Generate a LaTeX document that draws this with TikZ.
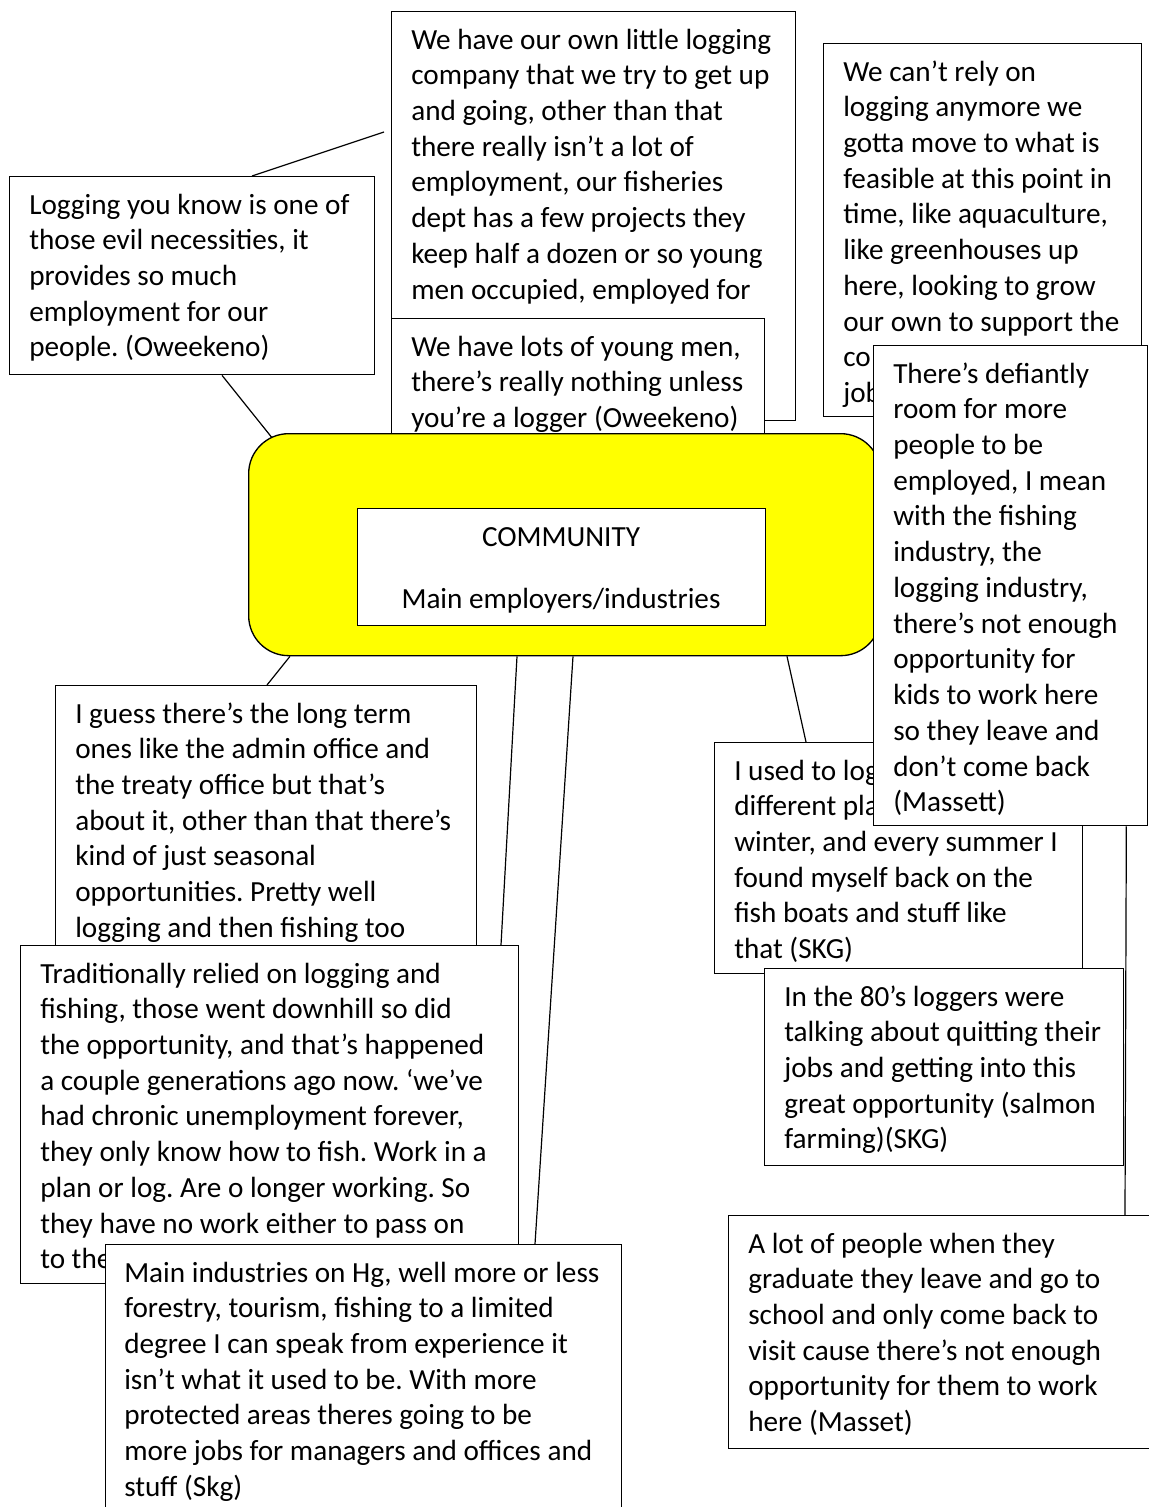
\documentclass[tikz,border=0pt]{standalone}
\usepackage{fontspec}
\setmainfont{Carlito}
\usepackage{xcolor}
\usepackage{tikz}
\usetikzlibrary{calc}
\pgfdeclarelayer{background}
\pgfsetlayers{background,main}
\frenchspacing
\definecolor{qyellow}{RGB}{255,255,0}
\newcommand{\qfont}{\fontsize{21.9pt}{26.8pt}\selectfont}
\newcommand{\qlines}[1]{\begin{tabular}[t]{@{}l@{}}#1\end{tabular}}
\tikzset{
	qbox/.style={draw, fill=white, line width=1pt, anchor=north west, inner sep=0pt},
	qtext/.style={anchor=base west, inner sep=0pt, font=\qfont},
	link/.style={draw, line width=0.9pt},
}

\begin{document}
\begin{tikzpicture}[x=0.75pt,y=0.75pt,yscale=-1]
			\useasboundingbox (0,0) rectangle (1149,1507);
			
			%Shape: Rectangle
			\node [qbox, minimum width=303pt, minimum height=306.75pt] (ownco) at (391,11) {};
			% Text Node
			\node [qtext] (ownco-t) at (411,49) {\qlines{We have our own little logging\\company that we try to get up\\and going, other than that\\there really isn’t a lot of\\employment, our fisheries\\dept has a few projects they\\keep half a dozen or so young\\men occupied, employed for}};
			%Shape: Rectangle
			\node [qbox, minimum width=279.75pt, minimum height=97.5pt] (youngmen) at (391,318) {};
			% Text Node
			\node [qtext] (youngmen-t) at (411,356) {\qlines{We have lots of young men,\\there’s really nothing unless\\you’re a logger (Oweekeno)}};
			%Shape: Rectangle
			\node [qbox, minimum width=238.5pt, minimum height=279.75pt] (rely) at (823,43) {};
			% Text Node
			\node [qtext] (rely-t) at (843,81) {\qlines{We can’t rely on\\logging anymore we\\gotta move to what is\\feasible at this point in\\time, like aquaculture,\\like greenhouses up\\here, looking to grow\\our own to support the\\co\\job}};
			
			%Shape: Rounded Rectangle
			\node [qbox, fill=qyellow, rounded corners=30pt, minimum width=474pt, minimum height=166.5pt] (yellow) at (248,433) {};
			%Shape: Rectangle
			\node [qbox, minimum width=306pt, minimum height=87.75pt] (community) at (357,508) {};
			% Text Node
			\node [qtext, anchor=base] (community-t) at (561,546) {\begin{tabular}[t]{@{}c@{}}COMMUNITY\\[19.7pt]Main employers/industries\end{tabular}};
			
			%Shape: Rectangle
			\node [qbox, minimum width=273.75pt, minimum height=148.5pt] (logging) at (9,176) {};
			% Text Node
			\node [qtext] (logging-t) at (29,214) {\qlines{Logging you know is one of\\those evil necessities, it\\provides so much\\employment for our\\people. (Oweekeno)}};
			%Shape: Rectangle
			\node [qbox, minimum width=315.75pt, minimum height=206.25pt] (longterm) at (55,685) {};
			% Text Node
			\node [qtext] (longterm-t) at (75,723) {\qlines{I guess there’s the long term\\ones like the admin office and\\the treaty office but that’s\\about it, other than that there’s\\kind of just seasonal\\opportunities. Pretty well\\logging and then fishing too}};
			%Shape: Rectangle
			\node [qbox, minimum width=373.5pt, minimum height=253.5pt] (trad) at (20,945) {};
			% Text Node
			\node [qtext] (trad-t) at (40,983) {\qlines{Traditionally relied on logging and\\fishing, those went downhill so did\\the opportunity, and that’s happened\\a couple generations ago now. ‘we’ve\\had chronic unemployment forever,\\they only know how to fish. Work in a\\plan or log. Are o longer working. So\\they have no work either to pass on\\to the}};
			%Shape: Rectangle
			\node [qbox, minimum width=387pt, minimum height=225pt] (mainind) at (105,1244) {};
			% Text Node
			\node [qtext] (mainind-t) at (124,1282) {\qlines{Main industries on Hg, well more or less\\forestry, tourism, fishing to a limited\\degree I can speak from experience it\\isn’t what it used to be. With more\\protected areas theres going to be\\more jobs for managers and offices and\\stuff (Skg)}};
			
			%Shape: Rectangle
			\node [qbox, minimum width=276pt, minimum height=173.25pt] (usedlog) at (714,742) {};
			% Text Node
			\node [qtext] (usedlog-t) at (734,780) {\qlines{I used to log\\different pla\\winter, and every summer I\\found myself back on the\\fish boats and stuff like\\that (SKG)}};
			%Shape: Rectangle
			\node [qbox, minimum width=269.25pt, minimum height=147.75pt] (eighties) at (764,968) {};
			% Text Node
			\node [qtext] (eighties-t) at (784,1006) {\qlines{In the 80’s loggers were\\talking about quitting their\\jobs and getting into this\\great opportunity (salmon\\farming)(SKG)}};
			%Shape: Rectangle
			\node [qbox, minimum width=205.5pt, minimum height=360pt] (massett) at (873,345) {};
			% Text Node
			\node [qtext] (massett-t) at (893,383) {\qlines{There’s defiantly\\room for more\\people to be\\employed, I mean\\with the fishing\\industry, the\\logging industry,\\there’s not enough\\opportunity for\\kids to work here\\so they leave and\\don’t come back\\(Massett)}};
			%Shape: Rectangle
			\node [qbox, minimum width=330pt, minimum height=174.75pt] (alot) at (728,1215) {};
			% Text Node
			\node [qtext] (alot-t) at (748,1253) {\qlines{A lot of people when they\\graduate they leave and go to\\school and only come back to\\visit cause there’s not enough\\opportunity for them to work\\here (Masset)}};
			
			%Straight Lines
			\begin{pgfonlayer}{background}
			\draw [link] ($(logging.north west)+(243,0)$) -- ($(ownco.north west)+(-7,121)$) ;
			\draw [link] ($(logging.south west)+(213,0)$) -- ($(yellow.north west)+(25,6)$) ;
			\draw [link] ($(yellow.south west)+(42,0)$) -- ($(longterm.north west)+(212,0)$) ;
			\draw [link] ($(yellow.south west)+(269,0)$) -- ($(trad.north west)+(481,0)$) ;
			\draw [link] ($(yellow.south west)+(325,0)$) -- ($(mainind.north west)+(430,0)$) ;
			\draw [link] ($(yellow.south west)+(539,0)$) -- ($(usedlog.north west)+(92,0)$) ;
			\draw [link] ($(massett.south east)+(-22,0)$) -- ($(alot.north west)+(397,0)$) ;
			\end{pgfonlayer}
			
\end{tikzpicture}
\end{document}
